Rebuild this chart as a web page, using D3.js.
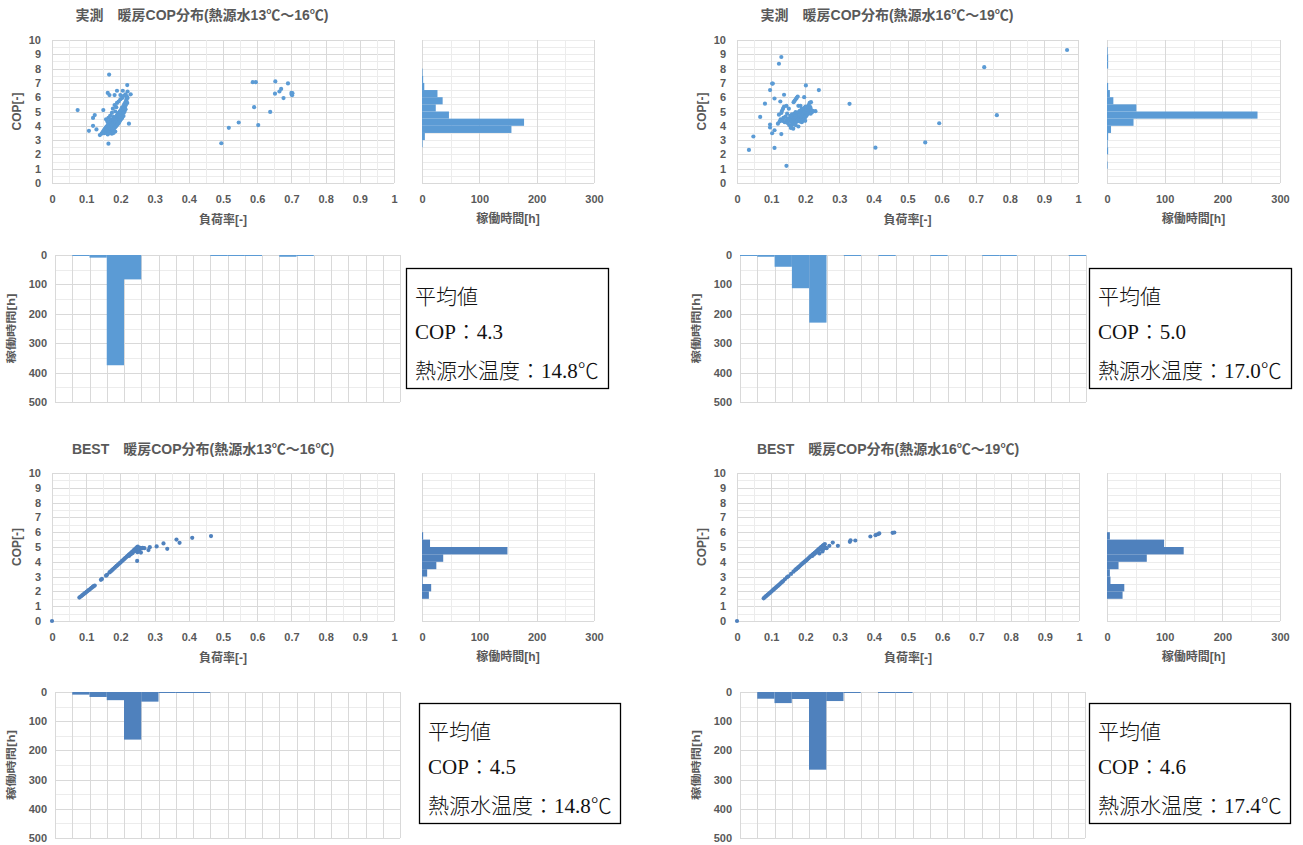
<!DOCTYPE html>
<html>
<head>
<meta charset="utf-8">
<script src="https://cdn.jsdelivr.net/npm/d3@7"></script>
<style>
  body { margin: 0; background: #ffffff; }
  svg { display: block; }
</style>
</head>
<body>
<svg id="chart" width="1303" height="845"></svg>
<script>
// ---------------- data ----------------
const titles = [
  "実測　暖房COP分布(熱源水13℃～16℃)",
  "実測　暖房COP分布(熱源水16℃～19℃)",
  "BEST　暖房COP分布(熱源水13℃～16℃)",
  "BEST　暖房COP分布(熱源水16℃～19℃)"
];

// lower edges of the COP classes (0.5 wide) and load-factor classes (0.05 wide)
const copClasses = [0, 0.5, 1, 1.5, 2, 2.5, 3, 3.5, 4, 4.5, 5, 5.5, 6, 6.5, 7, 7.5, 8, 8.5, 9, 9.5];
const loadClasses = [0, 0.05, 0.1, 0.15, 0.2, 0.25, 0.3, 0.35, 0.4, 0.45, 0.5, 0.55, 0.6, 0.65, 0.7, 0.75, 0.8, 0.85, 0.9, 0.95];

const scatterXTicks = [0, 0.1, 0.2, 0.3, 0.4, 0.5, 0.6, 0.7, 0.8, 0.9, 1];
const scatterYTicks = [0, 1, 2, 3, 4, 5, 6, 7, 8, 9, 10];
const hoursTicks = [0, 100, 200, 300];
const hoursTicksDown = [0, 100, 200, 300, 400, 500];

// operating hours per COP class [h]
const copHoursMeas13 = [0, 0, 0, 0, 0, 1, 5, 156, 178, 47, 24, 36, 27, 4, 2, 1, 0, 0, 0, 0];
const copHoursMeas16 = [0, 0, 1, 0, 2, 1, 2, 7, 46, 261, 51, 11, 5, 2, 0, 0, 2, 2, 1, 0];
const copHoursBest13 = [0, 0, 0, 12, 16, 1, 9, 25, 37, 149, 14, 2, 0, 0, 0, 0, 0, 0, 0, 0];
const copHoursBest16 = [0, 0, 0, 27, 30, 6, 5, 20, 69, 133, 99, 5, 0, 0, 0, 0, 0, 0, 0, 0];

// operating hours per load-factor class [h]
const loadHoursMeas13 = [0, 1, 9, 375, 83, 0, 0, 0, 0, 1, 2, 2, 0, 6, 2, 0, 0, 0, 0, 0];
const loadHoursMeas16 = [1, 6, 40, 113, 230, 0, 1, 0, 1, 0, 0, 2, 0, 0, 1, 1, 0, 0, 0, 1];
const loadHoursBest13 = [0, 9, 17, 28, 163, 33, 2, 1, 1, 0, 0, 0, 0, 0, 0, 0, 0, 0, 0, 0];
const loadHoursBest16 = [0, 23, 38, 24, 266, 31, 2, 0, 1, 1, 0, 0, 0, 0, 0, 0, 0, 0, 0, 0];

// mean values
const meanCop = [4.3, 5.0, 4.5, 4.6];
const meanWaterTemp = [14.8, 17.0, 14.8, 17.4];

// [load factor, COP]
const pointsMeas13 = [
  [0.075,5.10],[0.108,3.65],[0.120,4.00],[0.120,4.55],[0.125,4.75],[0.130,3.75],[0.140,3.35],[0.145,3.45],
  [0.150,5.10],[0.165,2.75],[0.167,7.58],[0.163,6.30],[0.168,6.15],[0.175,4.90],[0.183,6.15],[0.190,6.45],
  [0.200,6.15],[0.207,6.45],[0.220,6.85],[0.221,6.40],[0.225,4.15],[0.230,6.20],[0.215,6.20],
  [0.148,3.55],[0.150,3.62],[0.152,3.70],[0.153,3.48],[0.155,3.80],[0.156,3.58],[0.157,3.66],[0.158,3.90],
  [0.159,3.52],[0.160,3.75],[0.160,3.95],[0.161,3.62],[0.162,3.85],[0.163,4.05],[0.164,3.70],[0.165,3.92],
  [0.165,4.15],[0.166,3.58],[0.167,3.80],[0.168,4.00],[0.168,4.25],[0.169,3.65],[0.170,3.88],[0.170,4.10],
  [0.171,4.35],[0.172,3.55],[0.172,3.75],[0.173,3.98],[0.174,4.20],[0.174,4.45],[0.175,3.62],[0.176,3.85],
  [0.176,4.08],[0.177,4.30],[0.178,3.70],[0.178,3.95],[0.179,4.15],[0.180,4.40],[0.180,4.62],[0.181,3.78],
  [0.182,4.02],[0.182,4.25],[0.183,4.50],[0.184,3.88],[0.185,4.10],[0.185,4.35],[0.186,4.58],[0.187,3.95],
  [0.188,4.20],[0.188,4.45],[0.189,4.70],[0.190,4.05],[0.191,4.28],[0.191,4.52],[0.192,4.80],[0.193,4.12],
  [0.194,4.38],[0.194,4.62],[0.195,4.90],[0.196,4.22],[0.197,4.48],[0.197,4.72],[0.198,5.00],[0.199,4.35],
  [0.200,4.58],[0.200,4.85],[0.201,5.10],[0.202,4.45],[0.203,4.70],[0.204,4.95],[0.204,5.25],[0.205,4.55],
  [0.206,4.82],[0.207,5.05],[0.208,5.35],[0.209,4.68],[0.210,4.92],[0.210,5.18],[0.211,5.50],[0.212,5.00],
  [0.213,5.30],[0.214,5.62],[0.215,5.15],[0.216,5.45],[0.217,5.78],[0.218,5.90],[0.220,5.60],[0.221,5.95],
  [0.219,6.05],[0.158,4.45],[0.162,4.30],[0.165,4.55],[0.170,4.70],[0.178,5.20],[0.183,5.45],[0.190,5.60],
  [0.195,5.70],[0.200,5.85],[0.185,5.00],[0.188,5.30],[0.205,5.95],[0.210,6.10],[0.175,3.45],[0.180,3.50],
  [0.185,3.60],[0.163,3.40],[0.168,3.50],
  [0.495,2.78],[0.517,3.86],[0.546,4.23],[0.587,7.05],[0.596,7.05],[0.591,5.30],[0.603,4.05],[0.638,4.97],
  [0.653,7.10],[0.652,6.25],[0.665,6.40],[0.670,6.58],[0.677,5.94],[0.690,6.96],[0.700,6.30],[0.701,6.20],
  [0.702,6.14],[0.703,6.28]
];

const pointsMeas16 = [
  [0.035,2.31],[0.048,3.25],[0.068,4.62],[0.082,5.55],[0.097,6.50],[0.103,6.95],[0.105,6.95],[0.097,4.09],
  [0.097,3.88],[0.103,3.48],[0.110,3.69],[0.110,2.45],[0.110,5.91],[0.123,8.34],[0.130,8.81],[0.127,5.70],
  [0.138,6.17],[0.130,3.42],[0.145,1.20],[0.202,6.82],[0.197,6.00],[0.240,6.50],[0.230,5.02],[0.330,5.54],
  [0.406,2.47],[0.552,2.84],[0.593,4.18],[0.725,8.10],[0.762,4.74],[0.968,9.30],
  [0.120,4.15],[0.123,4.78],[0.125,4.30],[0.128,4.45],[0.130,4.90],[0.132,5.05],[0.133,4.35],[0.135,5.20],
  [0.136,4.55],[0.138,5.35],[0.140,4.25],[0.142,4.65],[0.144,4.40],[0.145,5.40],[0.147,4.85],[0.148,4.20],
  [0.150,4.50],[0.152,5.20],[0.153,4.05],[0.155,4.35],[0.156,4.70],[0.158,3.95],[0.158,4.55],[0.160,4.25],
  [0.161,4.80],[0.162,4.45],[0.163,4.10],[0.164,4.65],[0.165,4.30],[0.166,5.65],[0.167,4.50],[0.168,4.85],
  [0.168,4.15],[0.169,5.75],[0.170,4.40],[0.171,4.65],[0.172,5.85],[0.172,4.95],[0.173,4.25],[0.174,4.55],
  [0.175,4.75],[0.175,5.95],[0.176,4.35],[0.177,4.60],[0.178,6.05],[0.178,4.85],[0.179,4.45],[0.180,4.70],
  [0.180,5.40],[0.181,4.95],[0.182,4.50],[0.183,4.75],[0.184,5.05],[0.184,4.30],[0.185,4.60],[0.186,4.85],
  [0.186,5.40],[0.187,4.45],[0.188,4.70],[0.189,4.95],[0.190,4.55],[0.190,5.20],[0.191,4.80],[0.192,5.05],
  [0.193,4.60],[0.194,4.90],[0.195,4.40],[0.195,5.15],[0.196,4.70],[0.197,4.95],[0.198,5.25],[0.199,4.55],
  [0.200,4.80],[0.200,5.05],[0.201,5.35],[0.202,4.65],[0.203,4.90],[0.204,5.15],[0.205,4.75],[0.206,5.00],
  [0.207,5.30],[0.208,4.85],[0.209,5.10],[0.210,5.45],[0.211,4.90],[0.212,5.20],[0.213,5.60],[0.214,5.00],
  [0.215,5.30],[0.216,4.85],[0.217,5.65],[0.218,5.10],[0.220,4.95],[0.222,5.05],[0.158,3.85],[0.165,3.80],
  [0.172,4.05],[0.180,3.95],[0.190,4.25],[0.200,4.35]
];

const pointsBest13 = [
  [0,0],
  [0.080,1.58],[0.083,1.64],[0.086,1.69],[0.089,1.75],[0.092,1.80],[0.095,1.86],[0.098,1.91],[0.101,1.97],
  [0.104,2.02],[0.107,2.08],[0.110,2.13],[0.113,2.19],[0.116,2.24],[0.119,2.30],[0.122,2.35],[0.125,2.40],
  [0.143,2.78],[0.146,2.84],[0.158,3.06],[0.161,3.12],[0.168,3.28],[0.171,3.34],[0.174,3.40],[0.177,3.47],
  [0.180,3.53],[0.183,3.59],[0.186,3.66],[0.189,3.72],[0.192,3.78],[0.195,3.85],[0.198,3.91],[0.201,3.97],
  [0.204,4.04],[0.207,4.10],[0.210,4.16],[0.213,4.23],[0.216,4.29],[0.219,4.35],[0.222,4.42],[0.225,4.48],
  [0.228,4.54],[0.231,4.61],[0.234,4.67],[0.237,4.73],[0.240,4.80],[0.243,4.86],[0.246,4.92],[0.249,4.99],
  [0.251,5.03],[0.245,4.75],[0.248,4.85],[0.250,4.65],[0.250,4.90],[0.252,4.95],[0.255,4.80],[0.258,4.95],
  [0.260,4.62],[0.262,4.90],[0.265,4.95],[0.270,4.92],[0.240,4.70],[0.235,4.58],[0.230,4.50],[0.225,4.40],
  [0.249,4.06],[0.282,4.79],[0.286,4.99],[0.306,5.04],[0.326,5.24],[0.337,4.88],[0.364,5.50],[0.373,5.28],
  [0.410,5.62],[0.465,5.74]
];

const pointsBest16 = [
  [0,0],
  [0.078,1.53],[0.081,1.60],[0.084,1.66],[0.087,1.72],[0.090,1.78],[0.093,1.84],[0.096,1.90],[0.099,1.96],
  [0.102,2.02],[0.105,2.08],[0.108,2.15],[0.111,2.21],[0.114,2.27],[0.117,2.33],[0.120,2.39],[0.123,2.45],
  [0.126,2.51],[0.129,2.58],[0.132,2.64],[0.135,2.70],[0.140,2.82],[0.146,2.95],[0.150,3.02],[0.158,3.18],
  [0.165,3.33],[0.170,3.44],[0.173,3.50],[0.176,3.56],[0.179,3.62],[0.182,3.68],[0.185,3.75],[0.188,3.81],
  [0.191,3.87],[0.194,3.93],[0.197,3.99],[0.200,4.05],[0.203,4.11],[0.206,4.17],[0.209,4.24],[0.212,4.30],
  [0.215,4.36],[0.218,4.42],[0.221,4.48],[0.224,4.54],[0.227,4.60],[0.230,4.66],[0.233,4.73],[0.236,4.79],
  [0.239,4.85],[0.242,4.91],[0.245,4.97],[0.248,5.03],[0.251,5.09],[0.254,5.15],
  [0.220,4.40],[0.225,4.50],[0.230,4.60],[0.235,4.70],[0.240,4.80],[0.245,4.88],[0.250,4.95],[0.252,4.85],
  [0.255,5.05],[0.257,5.20],[0.258,4.95],[0.250,4.70],
  [0.241,4.56],[0.262,4.92],[0.270,5.08],[0.280,5.30],[0.295,5.08],[0.330,5.35],[0.332,5.45],[0.346,5.44],
  [0.390,5.71],[0.405,5.80],[0.412,5.86],[0.416,5.92],[0.455,5.96],[0.460,5.98]
];

// ---------------- layout ----------------
const LIGHT = "#5B9BD5";
const DARK = "#4F81BD";
const TEXT = "#595959";
const GRID_MAJOR = "#d9d9d9";
const GRID_MINOR = "#ececec";
const SANS = "'Liberation Sans','Noto Sans CJK JP',sans-serif";
const SERIF = "'Liberation Serif','Noto Sans CJK JP',serif";

const panels = [
  { title: titles[0], tx: 202, ty: 16,
    sc: { l: 52, r: 394, t: 40, b: 183 }, rh: { l: 422, r: 594 },
    bh: { l: 55, r: 400, t: 255, b: 402 }, box: { x: 406, y: 268, w: 202, h: 120 },
    pts: pointsMeas13, copH: copHoursMeas13, loadH: loadHoursMeas13, color: LIGHT, k: 0 },
  { title: titles[1], tx: 887, ty: 16,
    sc: { l: 737, r: 1078, t: 40, b: 183 }, rh: { l: 1107, r: 1280 },
    bh: { l: 740, r: 1086, t: 255, b: 402 }, box: { x: 1089, y: 268, w: 202, h: 120 },
    pts: pointsMeas16, copH: copHoursMeas16, loadH: loadHoursMeas16, color: LIGHT, k: 1 },
  { title: titles[2], tx: 203, ty: 450,
    sc: { l: 52, r: 394, t: 473, b: 621 }, rh: { l: 422, r: 594 },
    bh: { l: 55, r: 400, t: 692, b: 838 }, box: { x: 419, y: 703, w: 201, h: 120 },
    pts: pointsBest13, copH: copHoursBest13, loadH: loadHoursBest13, color: DARK, k: 2 },
  { title: titles[3], tx: 888, ty: 450,
    sc: { l: 737, r: 1079, t: 473, b: 621 }, rh: { l: 1107, r: 1280 },
    bh: { l: 740, r: 1085, t: 692, b: 838 }, box: { x: 1089, y: 703, w: 201, h: 120 },
    pts: pointsBest16, copH: copHoursBest16, loadH: loadHoursBest16, color: DARK, k: 3 }
];

const svg = d3.select("#chart");
const px = v => Math.round(v) + 0.5;
const onStep = (v, step) => Math.abs(v / step - Math.round(v / step)) < 1e-6;

// gridlines: minor first, major on top
function drawGrid(g, x, y, xVals, yVals, xMajor, yMajor) {
  const [x0, x1] = x.range();
  const [ya, yb] = y.range();
  const y0 = Math.min(ya, yb), y1 = Math.max(ya, yb);
  const xs = xVals.slice().sort((a, b) => onStep(a, xMajor) - onStep(b, xMajor));
  const ys = yVals.slice().sort((a, b) => onStep(a, yMajor) - onStep(b, yMajor));
  g.append("g").selectAll("line").data(ys).join("line")
    .attr("x1", x0).attr("x2", x1)
    .attr("y1", d => px(y(d))).attr("y2", d => px(y(d)))
    .attr("stroke", d => onStep(d, yMajor) ? GRID_MAJOR : GRID_MINOR)
    .attr("stroke-width", 1);
  g.append("g").selectAll("line").data(xs).join("line")
    .attr("x1", d => px(x(d))).attr("x2", d => px(x(d)))
    .attr("y1", y0).attr("y2", y1)
    .attr("stroke", d => onStep(d, xMajor) ? GRID_MAJOR : GRID_MINOR)
    .attr("stroke-width", 1);
}

function styleAxis(sel) {
  sel.select(".domain").remove();
  sel.selectAll("text")
    .attr("fill", TEXT)
    .style("font-family", SANS)
    .style("font-size", "11px")
    .style("font-weight", "bold");
}

const fmtLoad = d => String(+d.toFixed(1));

panels.forEach(p => {
  const g = svg.append("g");

  // title
  g.append("text")
    .attr("x", p.tx).attr("y", p.ty)
    .attr("text-anchor", "middle").attr("dominant-baseline", "middle")
    .attr("fill", TEXT)
    .style("font-family", SANS).style("font-size", "14px").style("font-weight", "bold")
    .text(p.title);

  // ---- scatter: load factor vs COP ----
  const x = d3.scaleLinear().domain([0, 1]).range([p.sc.l, p.sc.r]);
  const y = d3.scaleLinear().domain([0, 10]).range([p.sc.b, p.sc.t]);
  drawGrid(g, x, y, x.ticks(20), y.ticks(20), 0.1, 1);

  g.append("g").selectAll("circle").data(p.pts).join("circle")
    .attr("cx", d => x(d[0])).attr("cy", d => y(d[1]))
    .attr("r", 2.1)
    .attr("fill", p.color);

  g.append("g").attr("transform", `translate(0,${p.sc.b})`)
    .call(d3.axisBottom(x).tickValues(scatterXTicks).tickFormat(fmtLoad).tickSize(0).tickPadding(12))
    .call(styleAxis);
  g.append("g").attr("transform", `translate(${p.sc.l},0)`)
    .call(d3.axisLeft(y).tickValues(scatterYTicks).tickSize(0).tickPadding(11))
    .call(styleAxis);

  g.append("text")
    .attr("x", (p.sc.l + p.sc.r) / 2).attr("y", p.sc.b + 38)
    .attr("text-anchor", "middle").attr("dominant-baseline", "middle")
    .attr("fill", TEXT)
    .style("font-family", SANS).style("font-size", "12px").style("font-weight", "bold")
    .text("負荷率[-]");
  g.append("text")
    .attr("transform", `translate(${p.sc.l - 34},${(p.sc.t + p.sc.b) / 2}) rotate(-90)`)
    .attr("text-anchor", "middle").attr("dominant-baseline", "middle")
    .attr("fill", TEXT)
    .style("font-family", SANS).style("font-size", "12px").style("font-weight", "bold")
    .text("COP[-]");

  // ---- side histogram: hours per COP class ----
  const xh = d3.scaleLinear().domain([0, 300]).range([p.rh.l, p.rh.r]);
  drawGrid(g, xh, y, xh.ticks(6), y.ticks(20), 100, 100);

  g.append("g").selectAll("rect").data(copClasses.map((c, i) => [c, p.copH[i]]).filter(d => d[1] > 0))
    .join("rect")
    .attr("x", xh(0))
    .attr("y", d => y(d[0] + 0.5))
    .attr("width", d => xh(d[1]) - xh(0))
    .attr("height", d => y(d[0]) - y(d[0] + 0.5))
    .attr("fill", p.color);

  g.append("g").attr("transform", `translate(0,${p.sc.b})`)
    .call(d3.axisBottom(xh).tickValues(hoursTicks).tickSize(0).tickPadding(12))
    .call(styleAxis);
  g.append("text")
    .attr("x", (p.rh.l + p.rh.r) / 2).attr("y", p.sc.b + 37)
    .attr("text-anchor", "middle").attr("dominant-baseline", "middle")
    .attr("fill", TEXT)
    .style("font-family", SANS).style("font-size", "12px").style("font-weight", "bold")
    .text("稼働時間[h]");

  // ---- lower histogram: hours per load-factor class (downward) ----
  const xb = d3.scaleLinear().domain([0, 1]).range([p.bh.l, p.bh.r]);
  const yb = d3.scaleLinear().domain([0, 500]).range([p.bh.t, p.bh.b]);
  drawGrid(g, xb, yb, xb.ticks(20), yb.ticks(10), 0.05, 100);

  g.append("g").selectAll("rect").data(loadClasses.map((c, i) => [c, p.loadH[i]]).filter(d => d[1] > 0))
    .join("rect")
    .attr("x", d => xb(d[0]))
    .attr("y", yb(0))
    .attr("width", d => xb(d[0] + 0.05) - xb(d[0]))
    .attr("height", d => Math.max(1, yb(d[1]) - yb(0)))
    .attr("fill", p.color);

  g.append("g").attr("transform", `translate(${p.bh.l},0)`)
    .call(d3.axisLeft(yb).tickValues(hoursTicksDown).tickSize(0).tickPadding(8))
    .call(styleAxis);
  g.append("text")
    .attr("transform", `translate(${p.bh.l - 43},${(p.bh.t + p.bh.b) / 2}) rotate(-90)`)
    .attr("text-anchor", "middle").attr("dominant-baseline", "middle")
    .attr("fill", TEXT)
    .attr("textLength", 70).attr("lengthAdjust", "spacingAndGlyphs")
    .style("font-family", SANS).style("font-size", "10px").style("font-weight", "bold")
    .text("稼働時間[h]");

  // ---- mean value box ----
  const bx = g.append("g");
  bx.append("rect")
    .attr("x", px(p.box.x)).attr("y", px(p.box.y))
    .attr("width", p.box.w).attr("height", p.box.h)
    .attr("fill", "#fff").attr("stroke", "#000").attr("stroke-width", 1.3);
  const lines = ["平均値", "COP：" + meanCop[p.k].toFixed(1), "熱源水温度：" + meanWaterTemp[p.k].toFixed(1) + "℃"];
  const offs = [36, 71, 110];
  bx.selectAll("text").data(lines).join("text")
    .attr("x", p.box.x + 9)
    .attr("y", (d, i) => p.box.y + offs[i])
    .attr("fill", "#111")
    .style("font-family", SERIF).style("font-size", "21px").style("font-weight", "300")
    .text(d => d);
});
</script>
</body>
</html>
